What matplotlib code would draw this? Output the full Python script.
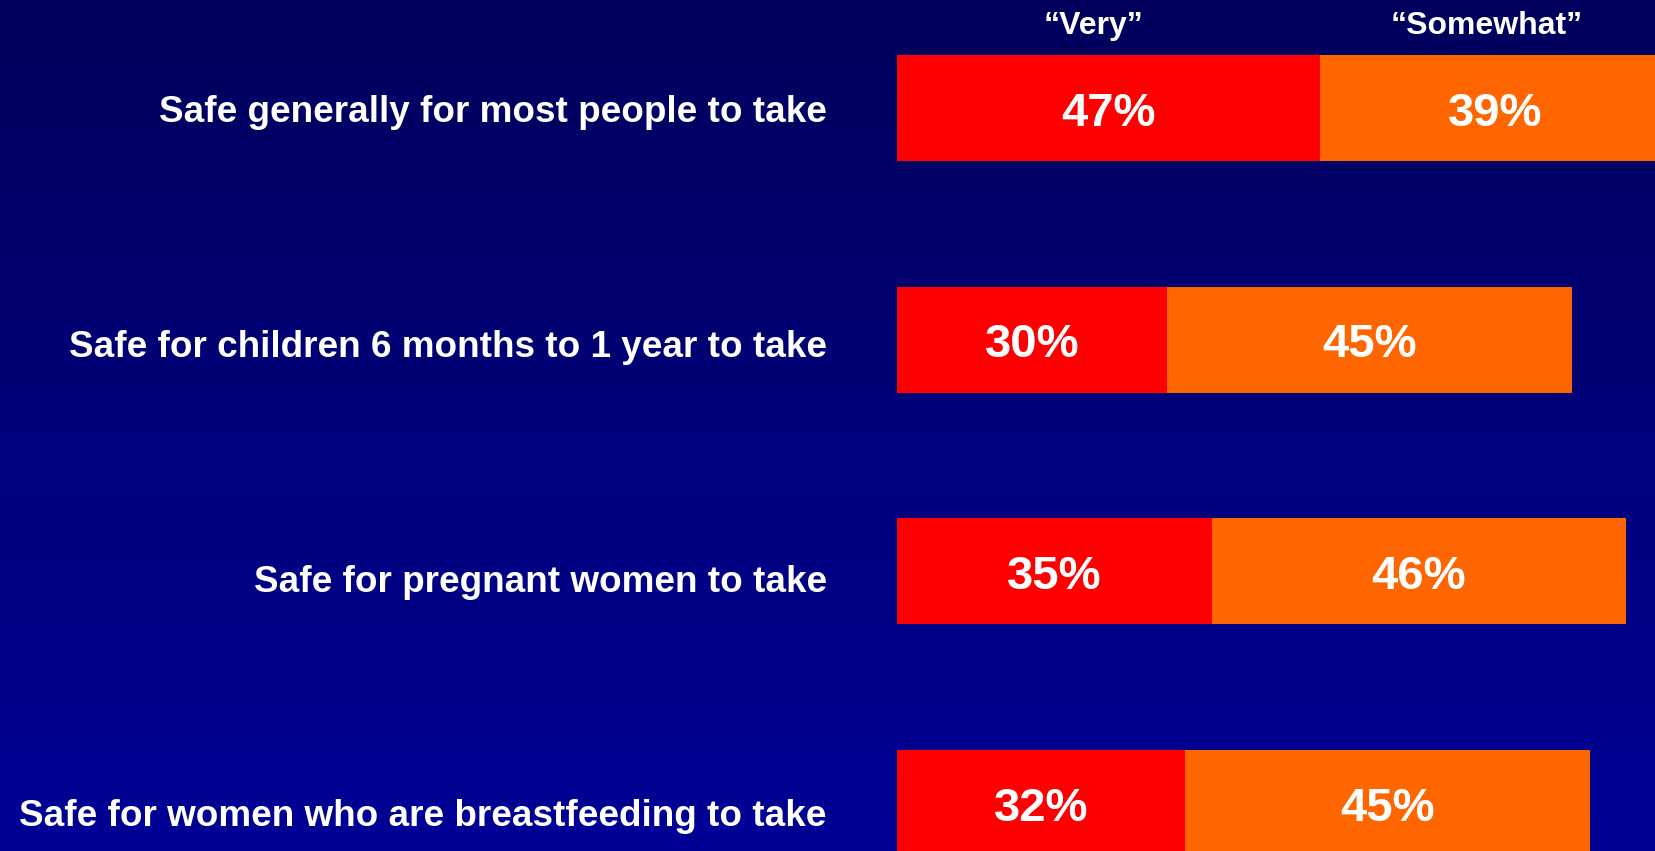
import numpy as np
import matplotlib
matplotlib.use("Agg")
import matplotlib.pyplot as plt
from matplotlib.colors import LinearSegmentedColormap

# 調査項目と回答割合
questions = [
    "Safe generally for most people to take",
    "Safe for children 6 months to 1 year to take",
    "Safe for pregnant women to take",
    "Safe for women who are breastfeeding to take",
]
very = [47, 30, 35, 32]
somewhat = [39, 45, 46, 45]
series_names = ["\u201cVery\u201d", "\u201cSomewhat\u201d"]

fig = plt.figure(figsize=(16.56, 8.51), dpi=100)

# 背景のグラデーション
bg = fig.add_axes([0, 0, 1, 1], zorder=0)
grad = np.linspace(0, 1, 256).reshape(-1, 1)
cmap = LinearSegmentedColormap.from_list("bg", ["#00005C", "#000096"])
bg.imshow(grad, aspect="auto", cmap=cmap, extent=[0, 1, 0, 1], origin="upper")
bg.axis("off")

ax = fig.add_axes([0, 0, 1, 1], zorder=1)
ax.patch.set_visible(False)
ax.set_xlim(-99.67, 84.33)
ax.set_ylim(3.207, -0.466)
ax.axis("off")

rows = np.arange(len(questions))
h = 0.457
ax.barh(rows, very, height=h, color="#FF0000", linewidth=0)
ax.barh(rows, somewhat, left=very, height=h, color="#FF6600", linewidth=0)

font = ["Liberation Sans", "DejaVu Sans"]

for i, (v, s) in enumerate(zip(very, somewhat)):
    ax.text(v / 2, i + 0.025, f"{v}%", ha="center", va="center", color="white",
            fontsize=34, fontweight="bold", family=font)
    ax.text(v + s / 2, i + 0.025, f"{s}%", ha="center", va="center", color="white",
            fontsize=34, fontweight="bold", family=font)
    ax.text(-7.8, i + 0.02 + 0.013 * i, questions[i], ha="right", va="center",
            color="white", fontsize=26.6, fontweight="bold", family=font)

# 列見出し
ax.text(21.8, -0.352, series_names[0], ha="center", va="center", color="white",
        fontsize=23, fontweight="bold", family=font)
ax.text(65.5, -0.352, series_names[1], ha="center", va="center",
        color="white", fontsize=23, fontweight="bold", family=font)

fig.savefig("out.png", dpi=100)
